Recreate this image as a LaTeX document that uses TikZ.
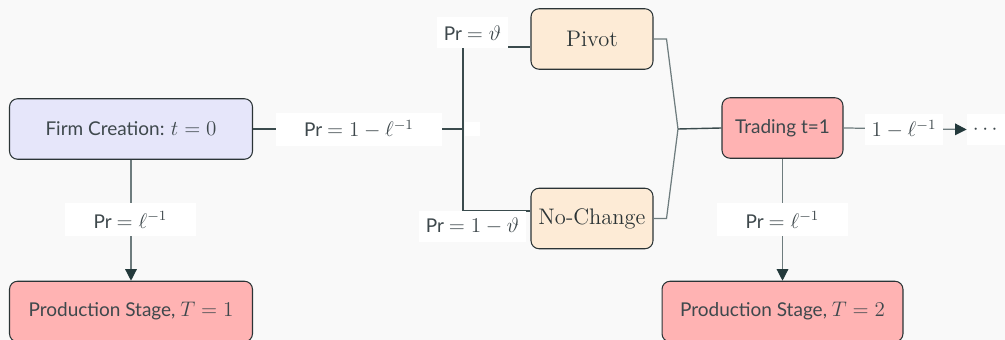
\documentclass[tikz,border=0pt]{standalone}
\usepackage{amsmath}
\usepackage{fontspec}
\setsansfont{Lato}[Scale=0.94]
\usepackage{tikz}
\usetikzlibrary{arrows.meta}

\definecolor{fondo}{HTML}{F9F9F9}
\definecolor{lila}{HTML}{E6E6FA}
\definecolor{crema}{HTML}{FDEBD6}
\definecolor{rosa}{HTML}{FFB3B3}
\definecolor{borde}{HTML}{2B3436}
\definecolor{oscuro}{HTML}{3A4B4D}
\definecolor{gris}{HTML}{6E7C7E}
\definecolor{punta}{HTML}{23393B}
\definecolor{texto}{HTML}{3E484C}

\begin{document}
\begin{tikzpicture}[x=0.02cm,y=-0.02cm,
    font=\fontsize{11.5}{14}\selectfont,
    caja/.style={draw=borde, rounded corners=0.16cm, minimum height=1.21cm,
      text=texto, line width=0.6pt},
    serif/.style={font=\fontsize{12.8}{15}\selectfont, text=borde},
    etiq/.style={fill=white, text=texto, inner xsep=0.57cm, minimum height=0.66cm},
    etiqc/.style={fill=white, text=texto, inner xsep=0.13cm, minimum height=0.62cm},
    linea/.style={draw=oscuro, line width=0.8pt},
    lineac/.style={draw=gris, line width=0.7pt},
    flecha/.style={-{Triangle[length=2.3mm,width=2.3mm,color=punta]}}]

    % Fondo y margenes
    \fill[fondo] (0,0) rectangle (1005,340);
    \useasboundingbox (0,0) rectangle (1005,340);

    % Cajas
    \node[caja, fill=lila, minimum width=4.86cm] (firm) at (131,129)
      {\sffamily Firm Creation: $t=0$};
    \node[caja, fill=rosa, minimum width=4.86cm] (prodA) at (131,311.5)
      {\sffamily Production Stage, $T=1$};
    \node[caja, serif, fill=crema, minimum width=2.44cm] (pivot) at (592,39) {Pivot};
    \node[caja, serif, fill=crema, minimum width=2.44cm] (nochange) at (592,218.5) {No-Change};
    \node[caja, fill=rosa, minimum width=2.42cm] (trading) at (782.5,128)
      {\sffamily Trading t=1};
    \node[caja, fill=rosa, minimum width=4.82cm] (prodB) at (782.5,311.5)
      {\sffamily Production Stage, $T=2$};
    \node[fill=white, text=texto, minimum width=0.8cm, minimum height=0.62cm]
      (dots) at (987,129.5) {$\cdots$};

    % Puntos de union
    \coordinate (split) at (463,129);
    \coordinate (merge) at (678,129);

    % Conectores
    \draw[linea] (firm.east) -- (split);
    \draw[linea] (split) |- ([yshift=-0.16cm]pivot.west);
    \draw[linea] (split) |- ([yshift=0.15cm]nochange.west);
    \draw[lineac] (pivot.east) -- ++(13,0) -- (merge);
    \draw[lineac] (nochange.east) -- ++(13,0) -- (merge);
    \draw[linea] (merge) -- (trading.west);
    \draw[lineac, flecha] (firm.south) -- (prodA.north);
    \draw[lineac, flecha] (trading.south) -- (prodB.north);
    \draw[lineac, flecha] (trading.east) -- (dots.west);

    % Etiquetas
    \node[etiq] (pMain) at (359,129.5) {\sffamily Pr $=1-\ell^{-1}$};
    \node[fill=white, minimum width=0.3cm, minimum height=0.28cm, inner sep=0pt]
      (hueco) at (472.5,129) {};
    \node[etiqc] (pPivot) at (472.5,33) {\sffamily Pr $=\vartheta$};
    \node[etiqc] (pNo) at (472.5,226.5) {\sffamily Pr $=1-\vartheta$};
    \node[etiq] (pFirm) at (130.5,220) {\sffamily Pr $=\ell^{-1}$};
    \node[etiq] (pTrade) at (782.5,220) {\sffamily Pr $=\ell^{-1}$};
    \node[etiqc] (pSigue) at (904,129.5) {$1-\ell^{-1}$};
\end{tikzpicture}
\end{document}
